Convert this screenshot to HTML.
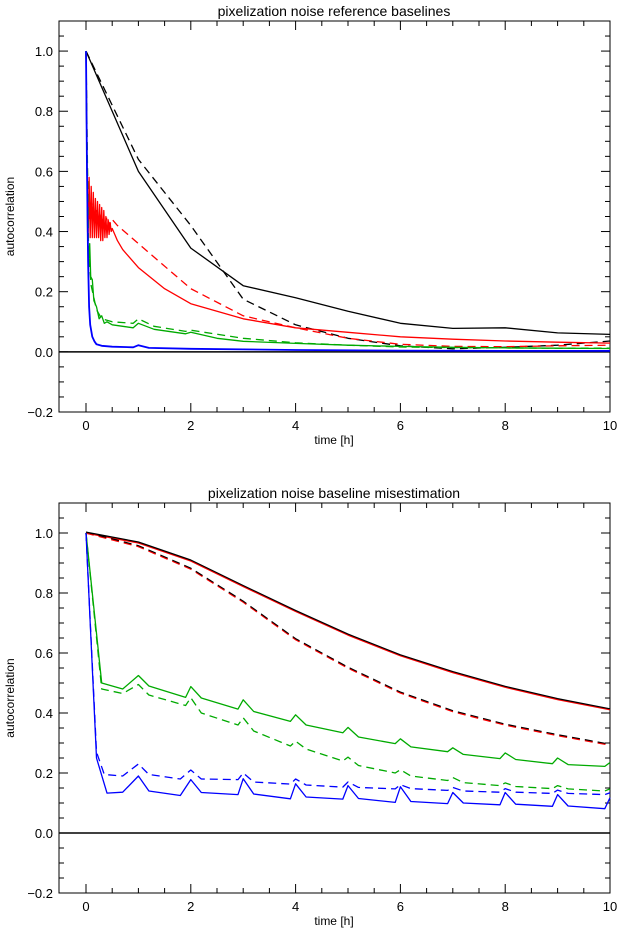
<!DOCTYPE html>
<html><head><meta charset="utf-8"><style>
body{margin:0;background:#fff;}
svg{display:block;font-family:"Liberation Sans","DejaVu Sans",sans-serif;}
</style></head><body>
<svg id="chart" width="618" height="934" viewBox="0 0 618 934">
<text x="334" y="16" text-anchor="middle" font-size="14" fill="#000">pixelization noise reference baselines</text>
<text x="334" y="498" text-anchor="middle" font-size="14" fill="#000">pixelization noise baseline misestimation</text>
<g id="p1"></g>
<g id="p2"></g>
</svg>
<script>
// ---- data: top panel ----
const xTicks=[0,2,4,6,8,10];
const yTicks=[-0.2,0.0,0.2,0.4,0.6,0.8,1.0];
const yTickLabels=["\u22120.2","0.0","0.2","0.4","0.6","0.8","1.0"];
const xTickLabels=["0","2","4","6","8","10"];

const t1BlackSolid=[0,1,2,3,4,5,6,7,8,9,10];
const v1BlackSolid=[1,0.6,0.345,0.22,0.18,0.135,0.095,0.078,0.08,0.063,0.058];
const t1BlackDash=[0,1,2,3,4,5,6,7,8,9,10];
const v1BlackDash=[1,0.64,0.42,0.175,0.09,0.045,0.02,0.01,0.015,0.022,0.036];
const t1RedSolid=[0,0.02,0.04,0.06,0.08,0.1,0.12,0.14,0.16,0.18,0.2,0.22,0.24,0.26,0.28,0.3,0.32,0.34,0.36,0.38,0.4,0.42,0.44,0.46,0.48,0.5,0.55,0.6,0.7,1,1.5,2,3,4,5,6,7,8,9,10];
const v1RedSolid=[1,0.61,0.38,0.58,0.38,0.55,0.38,0.53,0.38,0.51,0.38,0.5,0.38,0.49,0.37,0.48,0.37,0.47,0.38,0.45,0.38,0.44,0.39,0.43,0.4,0.41,0.39,0.37,0.34,0.28,0.21,0.16,0.11,0.08,0.065,0.05,0.042,0.036,0.032,0.029];
const t1RedDash=[0,0.03,0.06,0.1,0.15,0.2,0.25,0.3,0.35,0.4,0.45,0.5,0.6,0.8,1,2,3,4,5,6,7,8,9,10];
const v1RedDash=[1,0.56,0.44,0.5,0.44,0.47,0.42,0.46,0.41,0.45,0.42,0.44,0.42,0.39,0.36,0.21,0.12,0.08,0.045,0.025,0.018,0.017,0.02,0.022];
const t1GreenSolid=[0,0.03,0.05,0.07,0.09,0.12,0.15,0.2,0.25,0.3,0.35,0.4,0.5,0.7,0.9,1,1.3,1.9,2,2.5,3,4,5,6,7,8,9,10];
const v1GreenSolid=[1,0.4,0.3,0.36,0.25,0.24,0.17,0.15,0.11,0.12,0.095,0.1,0.09,0.085,0.08,0.095,0.075,0.06,0.065,0.045,0.035,0.028,0.022,0.018,0.015,0.013,0.012,0.011];
const t1GreenDash=[0,0.05,0.1,0.2,0.3,0.5,0.9,1,1.3,1.9,2,3,4,5,6,7,8,9,10];
const v1GreenDash=[1,0.33,0.22,0.14,0.11,0.1,0.095,0.11,0.085,0.068,0.072,0.045,0.03,0.022,0.016,0.014,0.013,0.012,0.012];
const t1Blue=[0,0.02,0.04,0.06,0.08,0.12,0.16,0.2,0.3,0.5,0.9,1,1.2,2,3,4,6,8,10];
const v1Blue=[1,0.6,0.3,0.15,0.09,0.05,0.035,0.025,0.02,0.017,0.015,0.022,0.013,0.01,0.008,0.006,0.004,0.003,0.003];

// ---- data: bottom panel ----
const t2BlackSolid=[0,1,2,3,4,5,6,7,8,9,10];
const v2BlackSolid=[1,0.967,0.907,0.822,0.739,0.66,0.591,0.535,0.486,0.445,0.411];
const t2Dash=[0,1,2,3,4,5,6,7,8,9,10];
const v2Dash=[1,0.955,0.88,0.77,0.645,0.55,0.467,0.405,0.36,0.325,0.293];
const t2GreenSolid=[0,0.3,0.7,1,1.2,1.9,2,2.2,2.9,3,3.2,3.9,4,4.2,4.9,5,5.2,5.9,6,6.2,6.9,7,7.2,7.9,8,8.2,8.9,9,9.2,9.9,10];
const v2GreenSolid=[1,0.5,0.48,0.525,0.49,0.452,0.488,0.45,0.413,0.444,0.405,0.372,0.394,0.36,0.334,0.352,0.32,0.298,0.314,0.287,0.271,0.284,0.262,0.248,0.267,0.245,0.231,0.25,0.228,0.222,0.235];
const t2GreenDash=[0,0.3,0.7,1,1.2,1.9,2,2.2,2.9,3,3.2,3.9,4,4.2,4.9,5,5.2,5.9,6,6.2,6.9,7,7.2,7.9,8,8.2,8.9,9,9.2,9.9,10];
const v2GreenDash=[1,0.48,0.465,0.495,0.46,0.425,0.451,0.4,0.36,0.384,0.34,0.29,0.306,0.28,0.24,0.253,0.225,0.2,0.211,0.19,0.175,0.185,0.168,0.158,0.167,0.155,0.148,0.158,0.147,0.14,0.147];
const t2BlueSolid=[0,0.2,0.4,0.7,1,1.2,1.8,2,2.2,2.9,3,3.2,3.9,4,4.2,4.9,5,5.2,5.9,6,6.2,6.9,7,7.2,7.9,8,8.2,8.9,9,9.2,9.9,10];
const v2BlueSolid=[1,0.25,0.133,0.136,0.19,0.14,0.125,0.178,0.135,0.128,0.181,0.13,0.114,0.164,0.12,0.113,0.158,0.115,0.102,0.154,0.105,0.098,0.135,0.1,0.094,0.135,0.096,0.089,0.128,0.09,0.081,0.118];
const t2BlueDash=[0,0.2,0.35,0.7,1,1.2,1.8,2,2.2,2.9,3,3.2,3.9,4,4.2,4.9,5,5.2,5.9,6,6.2,6.9,7,7.2,7.9,8,8.2,8.9,9,9.2,9.9,10];
const v2BlueDash=[1,0.27,0.195,0.19,0.23,0.195,0.18,0.21,0.18,0.178,0.2,0.17,0.163,0.18,0.16,0.153,0.17,0.152,0.147,0.161,0.148,0.142,0.152,0.14,0.136,0.148,0.136,0.132,0.143,0.132,0.128,0.134];

const NS="http://www.w3.org/2000/svg";
function mk(tag,attrs,parent){const e=document.createElementNS(NS,tag);for(const k in attrs)e.setAttribute(k,attrs[k]);parent.appendChild(e);return e;}

function panel(g,top,bottom,series){
  const left=59,right=610;
  const X=t=>86+(t)*52.4;
  const Y=v=>bottom-(v+0.2)/1.3*(bottom-top);
  const frame=mk('rect',{x:left,y:top,width:right-left,height:bottom-top,fill:'none',stroke:'#000','stroke-width':1},g);
  
  
  for(let i=0;i<=20;i++){
    const t=i*0.5; const x=X(t); const len=(i%4===0)?9:5;
    mk('line',{x1:x,y1:bottom,x2:x,y2:bottom-len,stroke:'#000'},g);
    mk('line',{x1:x,y1:top,x2:x,y2:top+len,stroke:'#000'},g);
  }
  xTicks.forEach((t,i)=>{
    const tx=mk('text',{x:X(t),y:bottom+18,'text-anchor':'middle','font-size':13},g);
    tx.textContent=xTickLabels[i];
    
    
  });
  for(let i=0;i<=26;i++){
    const v=-0.2+i*0.05; const y=Y(v); const len=(i%4===0)?9:5;
    mk('line',{x1:left,y1:y,x2:left+len,y2:y,stroke:'#000'},g);
    mk('line',{x1:right,y1:y,x2:right-len,y2:y,stroke:'#000'},g);
  }
  yTicks.forEach((v,i)=>{
    const tx=mk('text',{x:left-6,y:Y(v)+5,'text-anchor':'end','font-size':13},g);
    tx.textContent=yTickLabels[i];
    
    
  });
  const xl=mk('text',{x:334,y:bottom+32,'text-anchor':'middle','font-size':12},g);
  xl.textContent='time [h]';
  
  
  const yc=(top+bottom)/2;
  const yl=mk('text',{x:14,y:yc,'text-anchor':'middle','font-size':12,transform:`rotate(-90 14 ${yc})`},g);
  yl.textContent='autocorrelation';
  
  
  const zl=mk('line',{x1:left,y1:Y(0),x2:right,y2:Y(0),stroke:'#000','stroke-width':1.5},g);
  
  
  series.forEach(s=>{
    const d=s.t.map((t,i)=>(i?'L':'M')+X(t).toFixed(1)+','+Y(s.v[i]).toFixed(1)).join('');
    const p=mk('path',{d:d,fill:'none',stroke:s.c,'stroke-width':s.w||1.3,'stroke-dasharray':s.dash?'8,5':'none','stroke-linejoin':'round'},g);
    
    
  });
}
panel(document.getElementById('p1'),21,412,[
  {t:t1BlackDash,v:v1BlackDash,c:'#000',dash:1,name:'black-dashed-line'},
  {t:t1BlackSolid,v:v1BlackSolid,c:'#000',name:'black-solid-line'},
  {t:t1RedDash,v:v1RedDash,c:'#f00',dash:1,name:'red-dashed-line'},
  {t:t1RedSolid,v:v1RedSolid,c:'#f00',name:'red-solid-line'},
  {t:t1GreenDash,v:v1GreenDash,c:'#0a0',dash:1,name:'green-dashed-line'},
  {t:t1GreenSolid,v:v1GreenSolid,c:'#0a0',name:'green-solid-line'},
  {t:t1Blue,v:v1Blue,c:'#00f',w:1.8,name:'blue-solid-line'}
]);
panel(document.getElementById('p2'),503,893,[
  {t:t2BlackSolid,v:v2BlackSolid,c:'#f00',w:1.5,name:'red-solid-line'},
  {t:t2BlackSolid,v:v2BlackSolid.map(v=>v+0.003),c:'#000',w:1.2,name:'black-solid-line'},
  {t:t2Dash,v:v2Dash,c:'#f00',dash:1,w:1.6,name:'red-dashed-line'},
  {t:t2Dash,v:v2Dash.map(v=>v+0.003),c:'#000',dash:1,w:1.1,name:'black-dashed-line'},
  {t:t2GreenSolid,v:v2GreenSolid,c:'#0a0',name:'green-solid-line'},
  {t:t2GreenDash,v:v2GreenDash,c:'#0a0',dash:1,name:'green-dashed-line'},
  {t:t2BlueSolid,v:v2BlueSolid,c:'#00f',name:'blue-solid-line'},
  {t:t2BlueDash,v:v2BlueDash,c:'#00f',dash:1,name:'blue-dashed-line'}
]);
</script>
</body></html>
